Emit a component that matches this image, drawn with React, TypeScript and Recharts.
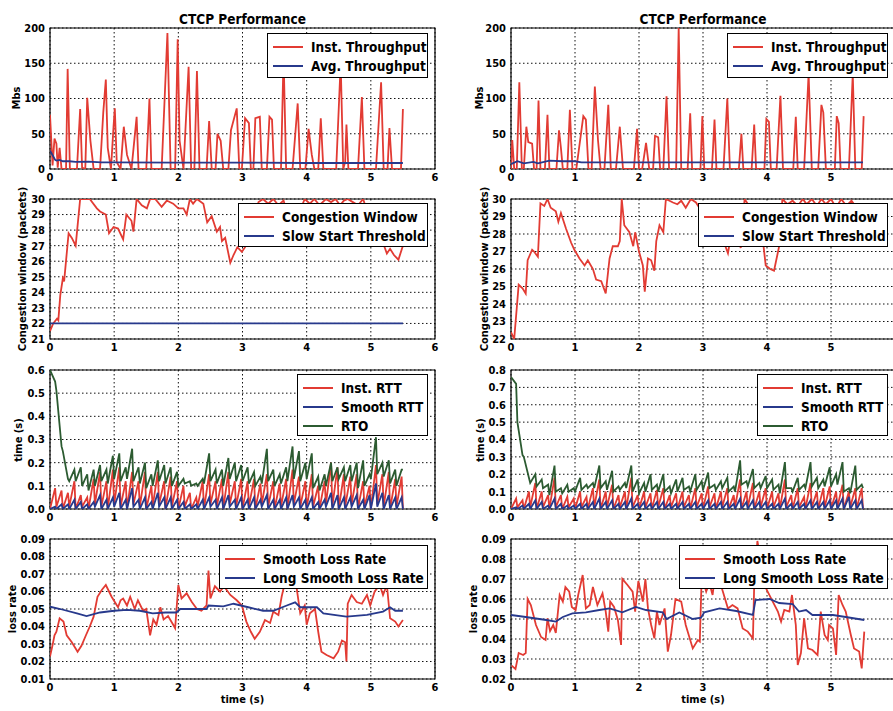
import { LineChart, Line, XAxis, YAxis, CartesianGrid, ReferenceArea } from 'recharts'

// ---------- throughput (Mbs) ----------
const tputLT = [0, 0.04, 0.07, 0.1, 0.12, 0.15, 0.18, 0.25, 0.275, 0.31, 0.42, 0.47, 0.5, 0.55, 0.58, 0.63, 0.68, 0.78, 0.83, 0.87, 0.9, 0.95, 0.99, 1.01, 1.04, 1.1, 1.15, 1.2, 1.27, 1.35, 1.38, 1.5, 1.55, 1.58, 1.74, 1.83, 1.88, 1.95, 1.99, 2.02, 2.08, 2.16, 2.2, 2.25, 2.29, 2.33, 2.44, 2.48, 2.52, 2.58, 2.61, 2.66, 2.7, 2.78, 2.82, 2.91, 2.95, 2.99, 3.04, 3.1, 3.13, 3.17, 3.2, 3.27, 3.3, 3.38, 3.42, 3.46, 3.49, 3.6, 3.64, 3.68, 3.78, 3.86, 3.9, 3.98, 4.03, 4.08, 4.12, 4.18, 4.22, 4.26, 4.46, 4.53, 4.57, 4.6, 4.62, 4.65, 4.8, 4.86, 4.9, 5.08, 5.16, 5.2, 5.26, 5.29, 5.33, 5.47, 5.5]
const tputLInst = [77, 5, 43, 36, 2, 30, 0, 0, 142, 0, 0, 85, 2, 0, 101, 40, 0, 0, 80, 127, 30, 0, 60, 86, 10, 0, 60, 20, 0, 74, 0, 0, 100, 0, 0, 193, 0, 0, 184, 40, 0, 145, 0, 0, 139, 0, 0, 68, 0, 0, 50, 40, 0, 0, 55, 86, 0, 0, 72, 65, 0, 0, 72, 74, 0, 0, 74, 70, 0, 0, 160, 0, 0, 93, 0, 0, 57, 20, 0, 0, 72, 0, 0, 150, 0, 10, 63, 0, 0, 102, 0, 0, 123, 0, 0, 58, 0, 0, 85]
const avgLT = [0, 0.05, 0.08, 0.1, 0.15, 0.2, 0.3, 0.4, 0.6, 0.8, 1.0, 2.0, 3.0, 4.0, 5.0, 5.5]
const avgLV = [26, 18, 13, 12, 13, 11, 11, 10, 10.5, 9.5, 9.5, 9, 9, 8.5, 8.5, 8.5]

const tputRT = [0, 0.02, 0.05, 0.09, 0.13, 0.17, 0.2, 0.24, 0.27, 0.33, 0.36, 0.4, 0.43, 0.46, 0.53, 0.57, 0.6, 0.71, 0.75, 0.78, 0.81, 0.88, 0.92, 0.96, 1.02, 1.13, 1.17, 1.21, 1.26, 1.31, 1.36, 1.4, 1.46, 1.52, 1.56, 1.64, 1.7, 1.75, 1.92, 1.97, 2.0, 2.05, 2.11, 2.16, 2.22, 2.25, 2.3, 2.33, 2.38, 2.43, 2.47, 2.58, 2.62, 2.66, 2.76, 2.8, 2.83, 2.96, 2.99, 3.02, 3.14, 3.18, 3.21, 3.32, 3.38, 3.42, 3.56, 3.6, 3.63, 3.76, 3.8, 3.83, 3.96, 3.99, 4.03, 4.06, 4.15, 4.21, 4.25, 4.41, 4.45, 4.48, 4.58, 4.65, 4.7, 4.8, 4.85, 4.88, 4.92, 5.06, 5.09, 5.12, 5.15, 5.28, 5.34, 5.38, 5.48, 5.51]
const tputRInst = [0, 41, 0, 0, 123, 0, 0, 60, 38, 36, 0, 0, 97, 0, 0, 77, 0, 0, 55, 30, 0, 0, 84, 0, 0, 75, 70, 0, 0, 117, 40, 0, 0, 91, 0, 0, 60, 0, 0, 57, 0, 0, 37, 0, 0, 47, 45, 0, 0, 103, 0, 0, 200, 0, 0, 79, 0, 0, 75, 0, 0, 70, 0, 0, 100, 0, 0, 50, 0, 0, 63, 0, 0, 71, 67, 0, 0, 104, 0, 0, 74, 0, 0, 135, 0, 0, 91, 80, 0, 0, 75, 65, 0, 0, 135, 0, 0, 75]
const avgRT = [0, 0.1, 0.2, 0.35, 0.42, 0.6, 0.8, 1.0, 1.1, 2.0, 3.0, 4.0, 5.0, 5.5]
const avgRV = [7, 11, 8, 10, 8, 12, 11, 11, 9.5, 9.5, 9.5, 9.5, 9.5, 9.5]

// ---------- congestion window (packets) ----------
const cwndLT = [0, 0.05, 0.11, 0.13, 0.16, 0.2, 0.22, 0.29, 0.34, 0.4, 0.47, 0.55, 0.62, 0.73, 0.78, 0.87, 0.92, 0.99, 1.06, 1.14, 1.19, 1.27, 1.3, 1.35, 1.43, 1.51, 1.56, 1.64, 1.74, 1.82, 1.92, 2.0, 2.08, 2.13, 2.18, 2.23, 2.29, 2.39, 2.45, 2.52, 2.6, 2.65, 2.68, 2.73, 2.81, 2.86, 2.92, 2.99, 3.04, 3.1, 3.18, 3.25, 3.32, 3.4, 3.48, 3.56, 3.64, 3.7, 3.78, 3.85, 3.92, 3.97, 4.05, 4.12, 4.2, 4.3, 4.38, 4.45, 4.52, 4.58, 4.64, 4.72, 4.8, 4.88, 4.95, 5.02, 5.1, 5.18, 5.25, 5.3, 5.36, 5.43, 5.5]
const cwndLV = [21.5, 22.0, 22.3, 22.2, 23.8, 24.9, 24.7, 27.8, 27.5, 27.0, 30, 30, 30, 29.4, 29.2, 29.0, 27.8, 28.2, 28.1, 27.4, 29.0, 28.6, 27.9, 30, 29.6, 29.4, 30, 30, 29.5, 29.9, 29.7, 29.4, 29.4, 29.0, 30, 29.7, 30, 29.7, 28.5, 28.9, 27.9, 28.2, 27.3, 27.5, 25.9, 26.4, 26.9, 26.6, 26.9, 27.8, 28.9, 29.8, 30, 29.7, 30, 29.6, 29.9, 29.0, 28.4, 28.8, 29.5, 30, 29.7, 30, 29.6, 30, 29.8, 30, 29.6, 29.9, 30, 29.8, 29.6, 30, 29.1, 28.4, 27.9, 27.3, 26.5, 26.8, 26.4, 26.1, 27.0]
const ssthLT = [0, 5.5]
const ssthLV = [22, 22]

const cwndRT = [0, 0.05, 0.12, 0.18, 0.23, 0.26, 0.33, 0.36, 0.42, 0.46, 0.52, 0.57, 0.62, 0.7, 0.74, 0.78, 0.86, 0.94, 0.99, 1.07, 1.15, 1.2, 1.28, 1.33, 1.41, 1.48, 1.54, 1.59, 1.67, 1.7, 1.73, 1.77, 1.85, 1.91, 1.94, 2.0, 2.06, 2.09, 2.14, 2.19, 2.24, 2.27, 2.32, 2.38, 2.42, 2.53, 2.6, 2.66, 2.73, 2.81, 2.89, 2.96, 3.05, 3.15, 3.25, 3.33, 3.39, 3.45, 3.52, 3.59, 3.65, 3.72, 3.8, 3.88, 3.94, 3.98, 4.05, 4.11, 4.19, 4.24, 4.32, 4.4, 4.48, 4.56, 4.62, 4.7, 4.78, 4.85, 4.92, 5.0, 5.08, 5.16, 5.24, 5.32, 5.4, 5.5]
const cwndRV = [22.4, 22.0, 25.1, 24.9, 24.6, 26.5, 27.1, 27.0, 26.7, 29.75, 29.6, 30, 29.5, 29.3, 28.7, 29.2, 28.3, 27.5, 27.1, 26.6, 26.2, 26.5, 26.0, 25.4, 25.3, 24.6, 26.6, 27.3, 27.3, 27.6, 30, 28.5, 28.1, 27.3, 28.1, 27.0, 26.2, 24.7, 26.6, 26.5, 25.9, 27.6, 28.5, 28.1, 30, 29.8, 29.7, 29.9, 29.5, 30, 29.8, 29.4, 28.9, 28.3, 27.8, 27.5, 26.9, 28.2, 28.0, 27.2, 30, 29.6, 29.0, 28.1, 27.5, 26.2, 26.0, 25.9, 27.3, 30, 29.7, 29.9, 29.6, 30, 29.7, 30, 29.6, 30, 29.7, 30, 29.5, 30, 29.6, 29.9, 29.5, 29.7]
const ssthRT = [0, 5.5]
const ssthRV = [65535, 65535]

// ---------- RTT (s) ----------
const rttT = [
  0, 0.08, 0.1, 0.18, 0.2, 0.28, 0.3, 0.38, 0.4, 0.48,
  0.5, 0.58, 0.6, 0.68, 0.7, 0.78, 0.8, 0.88, 0.9, 0.98,
  1.0, 1.08, 1.1, 1.18, 1.2, 1.28, 1.3, 1.38, 1.4, 1.48,
  1.5, 1.58, 1.6, 1.68, 1.7, 1.78, 1.8, 1.88, 1.9, 1.98,
  2.0, 2.08, 2.1, 2.18, 2.2, 2.28, 2.3, 2.38, 2.4, 2.48,
  2.5, 2.58, 2.6, 2.68, 2.7, 2.78, 2.8, 2.88, 2.9, 2.98,
  3.0, 3.08, 3.1, 3.18, 3.2, 3.28, 3.3, 3.38, 3.4, 3.48,
  3.5, 3.58, 3.6, 3.68, 3.7, 3.78, 3.8, 3.88, 3.9, 3.98,
  4.0, 4.08, 4.1, 4.18, 4.2, 4.28, 4.3, 4.38, 4.4, 4.48,
  4.5, 4.58, 4.6, 4.68, 4.7, 4.78, 4.8, 4.88, 4.9, 4.98,
  5.0, 5.08, 5.1, 5.18, 5.2, 5.28, 5.3, 5.38, 5.4, 5.48,
  5.5,
]
const rttInstL = [
  0.0, 0.09, 0.01, 0.08, 0.0, 0.07, 0.01, 0.12, 0.0, 0.06,
  0.01, 0.05, 0.0, 0.13, 0.02, 0.16, 0.01, 0.12, 0.0, 0.17,
  0.02, 0.18, 0.01, 0.12, 0.0, 0.16, 0.02, 0.12, 0.01, 0.16,
  0.0, 0.10, 0.01, 0.16, 0.02, 0.12, 0.0, 0.14, 0.01, 0.12,
  0.0, 0.10, 0.01, 0.07, 0.0, 0.05, 0.01, 0.12, 0.0, 0.15,
  0.02, 0.12, 0.01, 0.13, 0.0, 0.16, 0.02, 0.12, 0.01, 0.13,
  0.0, 0.12, 0.01, 0.13, 0.0, 0.11, 0.02, 0.15, 0.01, 0.12,
  0.0, 0.11, 0.01, 0.13, 0.0, 0.17, 0.02, 0.14, 0.01, 0.12,
  0.0, 0.15, 0.01, 0.10, 0.0, 0.12, 0.02, 0.20, 0.01, 0.18,
  0.0, 0.15, 0.01, 0.14, 0.02, 0.15, 0.0, 0.12, 0.01, 0.10,
  0.0, 0.19, 0.02, 0.15, 0.01, 0.16, 0.0, 0.13, 0.01, 0.14,
  0.0,
]
const rttSmoothL = [
  0.0, 0.01, 0.0, 0.02, 0.0, 0.02, 0.0, 0.04, 0.0, 0.03,
  0.0, 0.02, 0.0, 0.03, 0.01, 0.06, 0.0, 0.04, 0.0, 0.05,
  0.01, 0.07, 0.0, 0.04, 0.0, 0.09, 0.01, 0.04, 0.0, 0.05,
  0.0, 0.03, 0.0, 0.07, 0.01, 0.05, 0.0, 0.05, 0.0, 0.04,
  0.0, 0.03, 0.0, 0.02, 0.0, 0.02, 0.0, 0.04, 0.0, 0.05,
  0.01, 0.04, 0.0, 0.05, 0.0, 0.06, 0.01, 0.04, 0.0, 0.05,
  0.0, 0.04, 0.0, 0.05, 0.0, 0.04, 0.01, 0.06, 0.0, 0.04,
  0.0, 0.04, 0.0, 0.05, 0.0, 0.06, 0.01, 0.05, 0.0, 0.04,
  0.0, 0.05, 0.0, 0.03, 0.0, 0.04, 0.01, 0.07, 0.0, 0.06,
  0.0, 0.05, 0.0, 0.05, 0.01, 0.06, 0.0, 0.04, 0.0, 0.06,
  0.0, 0.11, 0.01, 0.07, 0.0, 0.06, 0.0, 0.05, 0.0, 0.05,
  0.0,
]
const rttRtoL = [
  0.6, 0.55, 0.51, 0.27, 0.25, 0.13, 0.12, 0.17, 0.12, 0.18,
  0.1, 0.15, 0.08, 0.17, 0.1, 0.19, 0.12, 0.17, 0.11, 0.23,
  0.13, 0.24, 0.12, 0.18, 0.13, 0.26, 0.12, 0.18, 0.11, 0.2,
  0.09, 0.15, 0.1, 0.21, 0.12, 0.19, 0.11, 0.18, 0.1, 0.16,
  0.1, 0.13, 0.11, 0.12, 0.1, 0.11, 0.1, 0.13, 0.11, 0.24,
  0.12, 0.17, 0.11, 0.17, 0.1, 0.22, 0.13, 0.2, 0.12, 0.19,
  0.12, 0.18, 0.11, 0.16, 0.1, 0.14, 0.11, 0.26, 0.12, 0.17,
  0.1, 0.15, 0.11, 0.18, 0.12, 0.27, 0.13, 0.25, 0.12, 0.2,
  0.13, 0.24, 0.09, 0.14, 0.08, 0.15, 0.1, 0.2, 0.12, 0.18,
  0.13, 0.18, 0.12, 0.19, 0.12, 0.2, 0.09, 0.21, 0.1, 0.15,
  0.13, 0.31, 0.15, 0.2, 0.14, 0.21, 0.11, 0.17, 0.1, 0.17,
  0.17,
]
const rttInstR = [
  0.0, 0.06, 0.01, 0.05, 0.0, 0.1, 0.01, 0.15, 0.0, 0.1,
  0.01, 0.08, 0.0, 0.18, 0.01, 0.08, 0.0, 0.07, 0.01, 0.06,
  0.0, 0.1, 0.01, 0.07, 0.0, 0.12, 0.01, 0.17, 0.0, 0.1,
  0.01, 0.14, 0.0, 0.08, 0.01, 0.1, 0.0, 0.18, 0.01, 0.08,
  0.0, 0.1, 0.01, 0.09, 0.0, 0.11, 0.01, 0.12, 0.0, 0.08,
  0.01, 0.09, 0.0, 0.1, 0.01, 0.08, 0.0, 0.12, 0.01, 0.09,
  0.0, 0.13, 0.01, 0.09, 0.0, 0.1, 0.01, 0.12, 0.0, 0.08,
  0.01, 0.17, 0.0, 0.1, 0.01, 0.15, 0.0, 0.1, 0.01, 0.12,
  0.0, 0.1, 0.01, 0.09, 0.0, 0.17, 0.01, 0.08, 0.0, 0.12,
  0.01, 0.07, 0.0, 0.15, 0.01, 0.1, 0.0, 0.12, 0.01, 0.13,
  0.0, 0.1, 0.01, 0.14, 0.0, 0.1, 0.01, 0.12, 0.0, 0.12,
  0.0,
]
const rttSmoothR = [
  0.0, 0.01, 0.0, 0.02, 0.0, 0.03, 0.0, 0.05, 0.0, 0.04,
  0.0, 0.02, 0.0, 0.06, 0.0, 0.03, 0.0, 0.02, 0.0, 0.02,
  0.0, 0.03, 0.0, 0.03, 0.0, 0.04, 0.0, 0.06, 0.0, 0.04,
  0.0, 0.05, 0.0, 0.03, 0.0, 0.04, 0.0, 0.06, 0.0, 0.03,
  0.0, 0.04, 0.0, 0.03, 0.0, 0.04, 0.0, 0.04, 0.0, 0.03,
  0.0, 0.03, 0.0, 0.04, 0.0, 0.03, 0.0, 0.04, 0.0, 0.03,
  0.0, 0.05, 0.0, 0.03, 0.0, 0.04, 0.0, 0.04, 0.0, 0.03,
  0.0, 0.06, 0.0, 0.04, 0.0, 0.05, 0.0, 0.04, 0.0, 0.04,
  0.0, 0.03, 0.0, 0.03, 0.0, 0.06, 0.0, 0.03, 0.0, 0.04,
  0.0, 0.03, 0.0, 0.05, 0.0, 0.04, 0.0, 0.04, 0.0, 0.05,
  0.0, 0.05, 0.0, 0.06, 0.0, 0.07, 0.0, 0.05, 0.0, 0.05,
  0.0,
]
const rttRtoR = [
  0.76, 0.72, 0.5, 0.31, 0.3, 0.18, 0.15, 0.2, 0.13, 0.17,
  0.12, 0.14, 0.08, 0.25, 0.1, 0.12, 0.09, 0.14, 0.1, 0.12,
  0.1, 0.18, 0.11, 0.14, 0.12, 0.15, 0.12, 0.25, 0.12, 0.16,
  0.11, 0.22, 0.1, 0.13, 0.11, 0.15, 0.12, 0.25, 0.1, 0.17,
  0.09, 0.15, 0.1, 0.2, 0.11, 0.14, 0.1, 0.2, 0.1, 0.13,
  0.09, 0.17, 0.1, 0.18, 0.11, 0.13, 0.1, 0.2, 0.11, 0.16,
  0.11, 0.21, 0.12, 0.14, 0.11, 0.16, 0.12, 0.18, 0.1, 0.13,
  0.1, 0.28, 0.14, 0.16, 0.13, 0.23, 0.12, 0.15, 0.12, 0.19,
  0.12, 0.17, 0.11, 0.14, 0.09, 0.27, 0.12, 0.12, 0.1, 0.18,
  0.11, 0.14, 0.12, 0.27, 0.13, 0.18, 0.12, 0.17, 0.13, 0.24,
  0.13, 0.2, 0.14, 0.27, 0.1, 0.12, 0.09, 0.25, 0.11, 0.14,
  0.12,
]

// ---------- loss rate ----------
const lossLT = [0, 0.04, 0.07, 0.1, 0.15, 0.21, 0.26, 0.34, 0.43, 0.49, 0.56, 0.62, 0.68, 0.74, 0.81, 0.87, 0.96, 1.01, 1.06, 1.1, 1.14, 1.2, 1.25, 1.32, 1.37, 1.45, 1.5, 1.56, 1.61, 1.66, 1.72, 1.77, 1.84, 1.92, 1.95, 2.0, 2.05, 2.13, 2.21, 2.29, 2.36, 2.44, 2.47, 2.5, 2.57, 2.65, 2.71, 2.81, 2.91, 2.99, 3.06, 3.13, 3.19, 3.27, 3.35, 3.43, 3.48, 3.56, 3.61, 3.66, 3.72, 3.78, 3.84, 3.9, 3.97, 4.0, 4.05, 4.13, 4.18, 4.23, 4.31, 4.42, 4.49, 4.55, 4.6, 4.62, 4.64, 4.7, 4.78, 4.86, 4.94, 4.99, 5.06, 5.14, 5.19, 5.25, 5.3, 5.38, 5.43, 5.5]
const lossLV = [0.0228, 0.0294, 0.035, 0.037, 0.0447, 0.0428, 0.035, 0.031, 0.0256, 0.029, 0.035, 0.04, 0.0456, 0.057, 0.061, 0.0637, 0.057, 0.054, 0.051, 0.055, 0.056, 0.052, 0.057, 0.05, 0.055, 0.049, 0.05, 0.035, 0.044, 0.041, 0.051, 0.044, 0.046, 0.041, 0.039, 0.0637, 0.056, 0.059, 0.054, 0.05, 0.049, 0.052, 0.072, 0.056, 0.063, 0.06, 0.063, 0.058, 0.055, 0.052, 0.0428, 0.037, 0.033, 0.037, 0.0437, 0.042, 0.0485, 0.0466, 0.057, 0.065, 0.07, 0.068, 0.063, 0.0475, 0.052, 0.041, 0.0475, 0.05, 0.037, 0.0256, 0.0237, 0.0218, 0.0256, 0.032, 0.031, 0.02, 0.053, 0.058, 0.054, 0.053, 0.058, 0.052, 0.06, 0.0637, 0.058, 0.0637, 0.0447, 0.0428, 0.04, 0.0437]
const longLT = [0, 0.16, 0.42, 0.57, 0.78, 1.0, 1.2, 1.4, 1.6, 1.8, 1.97, 2.03, 2.44, 2.47, 2.7, 2.86, 3.09, 3.32, 3.48, 3.69, 3.82, 3.9, 4.16, 4.26, 4.62, 4.94, 5.19, 5.3, 5.38, 5.5]
const longLV = [0.0513, 0.05, 0.0475, 0.046, 0.048, 0.049, 0.0495, 0.049, 0.0475, 0.048, 0.048, 0.05, 0.05, 0.052, 0.0515, 0.053, 0.051, 0.049, 0.049, 0.052, 0.0538, 0.051, 0.051, 0.0475, 0.0456, 0.0466, 0.0485, 0.051, 0.049, 0.049]

const lossRT = [0.01, 0.07, 0.12, 0.19, 0.23, 0.26, 0.31, 0.39, 0.47, 0.54, 0.57, 0.61, 0.66, 0.7, 0.76, 0.81, 0.85, 0.91, 0.95, 1.01, 1.05, 1.12, 1.17, 1.23, 1.28, 1.35, 1.43, 1.48, 1.52, 1.55, 1.61, 1.67, 1.72, 1.74, 1.82, 1.9, 1.94, 1.99, 2.06, 2.1, 2.14, 2.19, 2.24, 2.28, 2.32, 2.4, 2.45, 2.5, 2.57, 2.66, 2.73, 2.84, 2.92, 2.95, 2.98, 3.05, 3.1, 3.15, 3.2, 3.31, 3.39, 3.46, 3.54, 3.62, 3.7, 3.78, 3.8, 3.85, 3.96, 4.01, 4.09, 4.17, 4.22, 4.27, 4.35, 4.39, 4.45, 4.48, 4.53, 4.58, 4.64, 4.71, 4.79, 4.84, 4.9, 4.95, 4.97, 5.03, 5.08, 5.12, 5.18, 5.23, 5.31, 5.36, 5.44, 5.48, 5.52]
const lossRV = [0.0267, 0.025, 0.033, 0.032, 0.033, 0.06, 0.057, 0.047, 0.041, 0.0395, 0.0503, 0.044, 0.047, 0.043, 0.062, 0.0587, 0.066, 0.0637, 0.056, 0.0545, 0.062, 0.072, 0.0553, 0.057, 0.066, 0.057, 0.0628, 0.0537, 0.0437, 0.0587, 0.056, 0.0495, 0.037, 0.07, 0.067, 0.0637, 0.0537, 0.069, 0.0587, 0.07, 0.0553, 0.047, 0.0403, 0.0537, 0.047, 0.0553, 0.0337, 0.042, 0.06, 0.0587, 0.047, 0.0353, 0.0395, 0.0387, 0.072, 0.0637, 0.068, 0.062, 0.0753, 0.0637, 0.0553, 0.057, 0.0553, 0.0453, 0.0437, 0.0403, 0.067, 0.089, 0.067, 0.0637, 0.0587, 0.0537, 0.0487, 0.0545, 0.0537, 0.062, 0.047, 0.027, 0.033, 0.0503, 0.0353, 0.0345, 0.032, 0.0537, 0.042, 0.0395, 0.047, 0.0453, 0.032, 0.062, 0.057, 0.0537, 0.042, 0.0353, 0.0337, 0.0253, 0.0437]
const longRT = [0, 0.23, 0.55, 0.7, 0.81, 0.96, 1.17, 1.38, 1.54, 1.74, 1.95, 2.11, 2.37, 2.43, 2.63, 2.84, 2.97, 3.02, 3.26, 3.52, 3.78, 3.82, 4.04, 4.19, 4.4, 4.5, 4.61, 4.71, 5.03, 5.23, 5.52]
const longRV = [0.052, 0.051, 0.0495, 0.0487, 0.051, 0.0528, 0.0533, 0.0545, 0.0553, 0.0533, 0.056, 0.0545, 0.0533, 0.05, 0.0533, 0.05, 0.0507, 0.0533, 0.0553, 0.054, 0.052, 0.0595, 0.06, 0.058, 0.0575, 0.0537, 0.0545, 0.052, 0.052, 0.051, 0.0495]

// ---------- axes ----------
const xTicksL = [0, 1, 2, 3, 4, 5, 6]
const xTicksR = [0, 1, 2, 3, 4, 5] // the 6 falls past the page edge
const tputTicks = [0, 50, 100, 150, 200]
const cwndTicksL = [21, 22, 23, 24, 25, 26, 27, 28, 29, 30]
const cwndTicksR = [22, 23, 24, 25, 26, 27, 28, 29, 30]
const rttTicksL = [0, 0.1, 0.2, 0.3, 0.4, 0.5, 0.6]
const rttTicksR = [0, 0.1, 0.2, 0.3, 0.4, 0.5, 0.6, 0.7, 0.8]
const lossTicksL = [0.01, 0.02, 0.03, 0.04, 0.05, 0.06, 0.07, 0.08, 0.09]
const lossTicksR = [0.02, 0.03, 0.04, 0.05, 0.06, 0.07, 0.08, 0.09]

const RED = '#e23b33'
const BLUE = '#27398c'
const GREEN = '#2c5b31'
const FONT = "'DejaVu Sans Condensed', 'DejaVu Sans', sans-serif"
const TICK = { fontSize: 11, fontWeight: 700, fill: '#000', fontFamily: FONT }

const pts = (t: number[], v: number[]) => t.map((x, i) => ({ t: x, v: v[i] }))

type Series = { data: { t: number; v: number }[]; color: string }

function Panel({ x, y, w, h, ticks, xTicks, fmt, lines }: {
  x: number; y: number; w: number; h: number
  ticks: number[]; xTicks: number[]; fmt?: (v: number) => string; lines: Series[]
}) {
  const YW = 50, MT = 10, MR = 10, XH = 20
  const lo = ticks[0], hi = ticks[ticks.length - 1]
  return (
    <div style={{ position: 'absolute', left: x - YW, top: y - MT }}>
      <LineChart width={YW + w + MR} height={MT + h + XH} margin={{ top: MT, right: MR, bottom: 0, left: 0 }}>
        <CartesianGrid stroke="#111" strokeDasharray="1.5 2.5" strokeWidth={1} />
        <XAxis type="number" dataKey="t" domain={[0, 6]} ticks={xTicks} interval={0} allowDataOverflow
          tick={TICK} tickLine={false} axisLine={false} tickSize={0} tickMargin={4} height={XH} />
        <YAxis type="number" domain={[lo, hi]} ticks={ticks} interval={0} allowDataOverflow tickFormatter={fmt}
          tick={TICK} tickLine={false} axisLine={false} tickSize={0} tickMargin={5} width={YW} />
        {lines.map((s, i) => (
          <Line key={i} data={s.data} dataKey="v" type="linear" stroke={s.color} strokeWidth={1.8}
            dot={false} isAnimationActive={false} />
        ))}
        <ReferenceArea x1={0} x2={6} y1={lo} y2={hi} fill="none" fillOpacity={0} stroke="#000" strokeWidth={1.2} />
      </LineChart>
    </div>
  )
}

function Legend({ right, top, w, h, items }: {
  right: number; top: number; w: number; h: number; items: { label: string; color: string }[]
}) {
  return (
    <div style={{
      position: 'absolute', left: right - w, top, width: w, height: h, boxSizing: 'border-box',
      border: '1.5px solid #000', background: '#fff', paddingTop: 3,
    }}>
      {items.map((it) => (
        <div key={it.label} style={{ height: 19, display: 'flex', alignItems: 'center' }}>
          <div style={{ width: 30, height: 2, background: it.color, marginLeft: 5, marginRight: 8 }} />
          <span style={{ fontFamily: FONT, fontWeight: 700, fontSize: 13.5, color: '#000', whiteSpace: 'nowrap' }}>
            {it.label}
          </span>
        </div>
      ))}
    </div>
  )
}

const f1 = (v: number) => v.toFixed(1)
const f2 = (v: number) => v.toFixed(2)

const LX = 50, RX = 511, PW = 385, PWR = 384
const ROWS = [28, 199, 370, 539]
const PH = 140

export default function App() {
  const tput = [{ label: 'Inst. Throughput', color: RED }, { label: 'Avg. Throughput', color: BLUE }]
  const cwnd = [{ label: 'Congestion Window', color: RED }, { label: 'Slow Start Threshold', color: BLUE }]
  const rtt = [{ label: 'Inst. RTT', color: RED }, { label: 'Smooth RTT', color: BLUE }, { label: 'RTO', color: GREEN }]
  const loss = [{ label: 'Smooth Loss Rate', color: RED }, { label: 'Long Smooth Loss Rate', color: BLUE }]
  const yl = (cx: number, cy: number, s: string) => (
    <text x={cx} y={cy} transform={`rotate(-90 ${cx} ${cy})`} textAnchor="middle" dominantBaseline="central">{s}</text>
  )
  return (
    <div style={{ position: 'fixed', left: 0, top: 0, width: 893, height: 711, overflow: 'hidden', background: '#fff' }}>
      <svg width={893} height={711} style={{ position: 'absolute', left: 0, top: 0 }}
        fontFamily={FONT} fontWeight={700} fontSize={11} fill="#000">
        <text x={242.5} y={19} fontSize={13.5} textAnchor="middle" dominantBaseline="central">CTCP Performance</text>
        <text x={703} y={19} fontSize={13.5} textAnchor="middle" dominantBaseline="central">CTCP Performance</text>
        {yl(16, 98, 'Mbs')}
        {yl(22, 269, 'Congestion window (packets)')}
        {yl(18, 440, 'time (s)')}
        {yl(12, 609, 'loss rate')}
        {yl(479, 98, 'Mbs')}
        {yl(484, 269, 'Congestion window (packets)')}
        {yl(480, 440, 'time (s)')}
        {yl(473, 609, 'loss rate')}
        <text x={242.5} y={699} textAnchor="middle" dominantBaseline="central">time (s)</text>
        <text x={703} y={699} textAnchor="middle" dominantBaseline="central">time (s)</text>
      </svg>

      <Panel x={LX} y={ROWS[0]} w={PW} h={141} ticks={tputTicks} xTicks={xTicksL}
        lines={[{ data: pts(tputLT, tputLInst), color: RED }, { data: pts(avgLT, avgLV), color: BLUE }]} />
      <Panel x={RX} y={ROWS[0]} w={PWR} h={141} ticks={tputTicks} xTicks={xTicksR}
        lines={[{ data: pts(tputRT, tputRInst), color: RED }, { data: pts(avgRT, avgRV), color: BLUE }]} />
      <Panel x={LX} y={ROWS[1]} w={PW} h={PH} ticks={cwndTicksL} xTicks={xTicksL}
        lines={[{ data: pts(cwndLT, cwndLV), color: RED }, { data: pts(ssthLT, ssthLV), color: BLUE }]} />
      <Panel x={RX} y={ROWS[1]} w={PWR} h={PH} ticks={cwndTicksR} xTicks={xTicksR}
        lines={[{ data: pts(cwndRT, cwndRV), color: RED }, { data: pts(ssthRT, ssthRV), color: BLUE }]} />
      <Panel x={LX} y={ROWS[2]} w={PW} h={139} ticks={rttTicksL} xTicks={xTicksL} fmt={f1}
        lines={[{ data: pts(rttT, rttInstL), color: RED }, { data: pts(rttT, rttSmoothL), color: BLUE }, { data: pts(rttT, rttRtoL), color: GREEN }]} />
      <Panel x={RX} y={ROWS[2]} w={PWR} h={139} ticks={rttTicksR} xTicks={xTicksR} fmt={f1}
        lines={[{ data: pts(rttT, rttInstR), color: RED }, { data: pts(rttT, rttSmoothR), color: BLUE }, { data: pts(rttT, rttRtoR), color: GREEN }]} />
      <Panel x={LX} y={ROWS[3]} w={PW} h={PH} ticks={lossTicksL} xTicks={xTicksL} fmt={f2}
        lines={[{ data: pts(lossLT, lossLV), color: RED }, { data: pts(longLT, longLV), color: BLUE }]} />
      <Panel x={RX} y={ROWS[3]} w={PWR} h={PH} ticks={lossTicksR} xTicks={xTicksR} fmt={f2}
        lines={[{ data: pts(lossRT, lossRV), color: RED }, { data: pts(longRT, longRV), color: BLUE }]} />

      <Legend right={428} top={33} w={161} h={45} items={tput} />
      <Legend right={888} top={33} w={161} h={45} items={tput} />
      <Legend right={428} top={203} w={190} h={44} items={cwnd} />
      <Legend right={888} top={203} w={190} h={44} items={cwnd} />
      <Legend right={428} top={374} w={131} h={62} items={rtt} />
      <Legend right={888} top={374} w={131} h={62} items={rtt} />
      <Legend right={428} top={545} w={209} h={44} items={loss} />
      <Legend right={888} top={545} w={209} h={44} items={loss} />
    </div>
  )
}
